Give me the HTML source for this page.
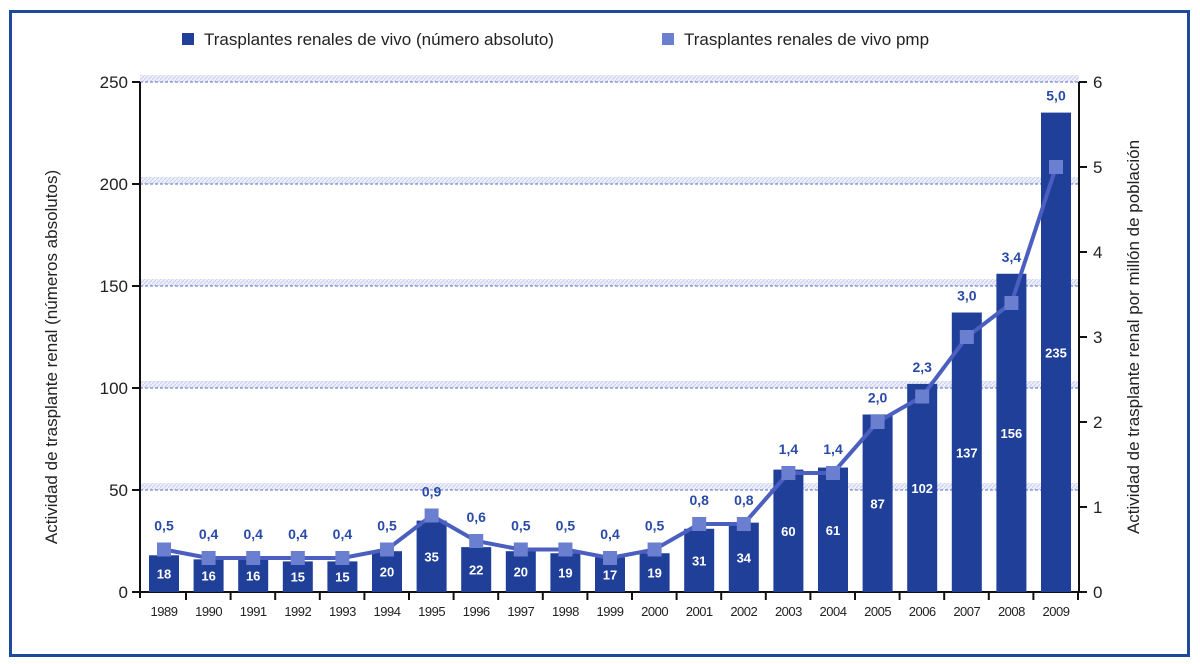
<!DOCTYPE html>
<html><head><meta charset="utf-8"><style>
body{margin:0;background:#fff;font-family:"Liberation Sans",sans-serif}
svg{display:block}
</style></head><body>
<svg id="c" width="1200" height="664">
<defs><pattern id="hatch" width="4" height="4" patternUnits="userSpaceOnUse"><rect width="4" height="4" fill="#eef0fa"/><path d="M0 4L4 0" stroke="#c9cfee" stroke-width="1"/></pattern></defs>
<rect x="10.5" y="11.5" width="1178" height="644" fill="none" stroke="#1d4a9c" stroke-width="3"/>
<rect x="182" y="33" width="12" height="12" fill="#1f3f99"/>
<text x="204" y="45" font-size="17" fill="#222">Trasplantes renales de vivo (número absoluto)</text>
<rect x="662" y="33" width="12" height="12" fill="#6b7fd0"/>
<text x="684" y="45" font-size="17" fill="#222">Trasplantes renales de vivo pmp</text>
<text transform="translate(57,357) rotate(-90)" text-anchor="middle" font-size="17" fill="#222">Actividad de trasplante renal (números absolutos)</text>
<text transform="translate(1139,337) rotate(-90)" text-anchor="middle" font-size="17" fill="#222">Actividad de trasplante renal por millón de población</text>
<g id="g"></g>
</svg>
<script>
const years=["1989","1990","1991","1992","1993","1994","1995","1996","1997","1998","1999","2000","2001","2002","2003","2004","2005","2006","2007","2008","2009"];
const absVals=[18,16,16,15,15,20,35,22,20,19,17,19,31,34,60,61,87,102,137,156,235];
const pmpVals=[0.5,0.4,0.4,0.4,0.4,0.5,0.9,0.6,0.5,0.5,0.4,0.5,0.8,0.8,1.4,1.4,2.0,2.3,3.0,3.4,5.0];
const leftTicks=[0,50,100,150,200,250];
const rightTicks=[0,1,2,3,4,5,6];
const NS="http://www.w3.org/2000/svg",g=document.getElementById('g');
const X0=140,X1=1079,Y0=592,Y1=82;
const yL=v=>Y0-(Y0-Y1)*v/250, yR=v=>Y0-(Y0-Y1)*v/6;
const xC=i=>164+i*(1056-164)/(years.length-1);
function mk(t,a,txt){const e=document.createElementNS(NS,t);for(const k in a)e.setAttribute(k,a[k]);if(txt!=null)e.textContent=txt;g.appendChild(e);return e;}
leftTicks.forEach(v=>{if(v===0)return;const y=yL(v);
 const h=mk('rect',{x:X0,y:y-7,width:X1-X0,height:7,fill:'url(#hatch)'});
 
 
 const l=mk('line',{x1:X0,x2:X1,y1:y,y2:y,stroke:'#5a6cc8','stroke-dasharray':'3,2'});
 
 });
let e;
e=mk('line',{x1:X0,x2:X0,y1:Y1,y2:Y0+6,stroke:'#111','stroke-width':2});


e=mk('line',{x1:X1,x2:X1,y1:Y1,y2:Y0,stroke:'#111','stroke-width':2});


e=mk('line',{x1:X0-8,x2:X1,y1:Y0,y2:Y0,stroke:'#111','stroke-width':2});


leftTicks.forEach(v=>{const y=yL(v);
 mk('line',{x1:X0-8,x2:X0,y1:y,y2:y,stroke:'#111','stroke-width':2});
 e=mk('text',{x:X0-12,y:y+6,'text-anchor':'end','font-size':17,fill:'#222'},v);
 
 });
rightTicks.forEach(v=>{const y=yR(v);
 mk('line',{x1:X1,x2:X1+8,y1:y,y2:y,stroke:'#111','stroke-width':2});
 e=mk('text',{x:X1+14,y:y+6,'font-size':17,fill:'#222'},v);
 
 });
years.forEach((yr,i)=>{const x=xC(i);
 mk('line',{x1:x+22,x2:x+22,y1:Y0,y2:Y0+8,stroke:'#111','stroke-width':2});
 e=mk('text',{x:x,y:Y0+24,'text-anchor':'middle','font-size':13,fill:'#222','letter-spacing':'-0.5'},yr);
 
 
 const top=yL(absVals[i]);
 e=mk('rect',{x:x-15,y:top,width:30,height:Y0-top,fill:'#1f3f99'});
 
 
 e=mk('text',{x:x,y:(top+Y0)/2+5,'text-anchor':'middle','font-size':13,'font-weight':'bold',fill:'#fff'},absVals[i]);
 
 });
const pts=pmpVals.map((v,i)=>xC(i)+','+yR(v)).join(' ');
e=mk('polyline',{points:pts,fill:'none',stroke:'#4a5fc0','stroke-width':4});


pmpVals.forEach((v,i)=>{const x=xC(i),y=yR(v);
 e=mk('rect',{x:x-7,y:y-7,width:14,height:14,fill:'#6b7fd0'});
 
 
 const top=Math.min(yL(absVals[i]),y-7);
 e=mk('text',{x:x,y:top-12,'text-anchor':'middle','font-size':14,'font-weight':'bold',fill:'#2a4aa8'},v.toFixed(1).replace('.',','));
 
 });
</script>
</body></html>
